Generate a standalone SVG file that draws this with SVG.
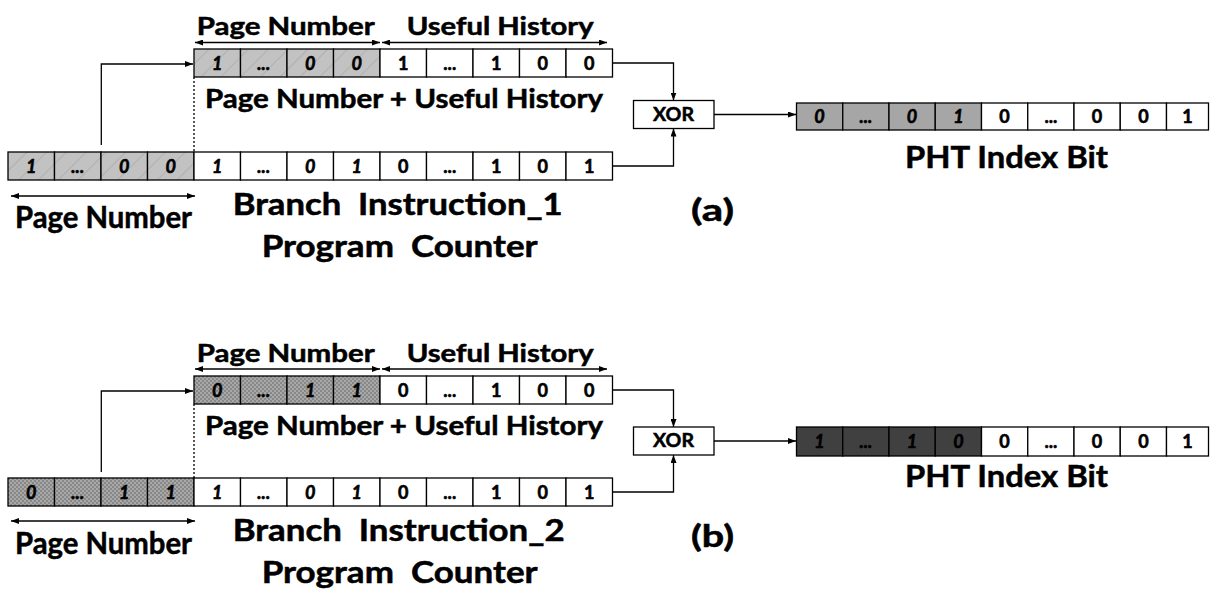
<svg xmlns="http://www.w3.org/2000/svg" width="1218" height="590" viewBox="0 0 1218 590">
  <style>
    text { font-family: Lato, "Open Sans", "Liberation Sans", sans-serif; font-weight: bold; fill: #000; stroke: #000; stroke-width: 0.5; }
    .lbl { font-size: 30px; }
    .top { font-size: 24px; }
    .mid { font-size: 27px; }
    .bit { font-size: 18px; text-anchor: middle; stroke-width: 0.6; }
    .it { font-style: italic; }
    .cell { stroke: #000; stroke-width: 1.3; fill: #fff; }
    .hat { fill: url(#hatch); }
    .xh { fill: url(#cross); }
    .g1 { fill: #a6a6a6; }
    .g2 { fill: #404040; }
    .wire { fill: none; stroke: #000; stroke-width: 1.3; }
    .arr { marker-end: url(#ah); }
    .dbl { marker-start: url(#ah); marker-end: url(#ah); }
    .dot { fill: none; stroke: #000; stroke-width: 1.3; stroke-dasharray: 2 2; }
  </style>
  <defs>
    <marker id="ah" viewBox="0 0 8 6" refX="8" refY="3" markerWidth="8" markerHeight="6" markerUnits="userSpaceOnUse" orient="auto-start-reverse">
      <path d="M0,0 L8,3 L0,6 Z" fill="#000"/>
    </marker>
    <!-- light grey with thin diagonal strokes -->
    <pattern id="hatch" width="14" height="14" patternUnits="userSpaceOnUse" patternTransform="rotate(45)">
      <rect width="14" height="14" fill="#c2c2c2"/>
      <line x1="0" y1="0" x2="0" y2="14" stroke="#a4a4a4" stroke-width="1.2"/>
    </pattern>
    <!-- mid grey fine checker -->
    <pattern id="cross" width="4" height="4" patternUnits="userSpaceOnUse">
      <rect width="4" height="4" fill="#888888"/>
      <rect width="2" height="2" fill="#a8a8a8"/>
      <rect x="2" y="2" width="2" height="2" fill="#a8a8a8"/>
    </pattern>
  </defs>

  <!-- ===================== (a) ===================== -->
  <g id="a-history-reg">
    <rect class="cell hat" x="194" y="49" width="46.5" height="28"/>
    <rect class="cell hat" x="240.5" y="49" width="46.5" height="28"/>
    <rect class="cell hat" x="287" y="49" width="46.5" height="28"/>
    <rect class="cell hat" x="333.5" y="49" width="46.5" height="28"/>
    <rect class="cell" x="380" y="49" width="46.5" height="28"/>
    <rect class="cell" x="426.5" y="49" width="46.5" height="28"/>
    <rect class="cell" x="473" y="49" width="46.5" height="28"/>
    <rect class="cell" x="519.5" y="49" width="46.5" height="28"/>
    <rect class="cell" x="566" y="49" width="46.5" height="28"/>
    <text class="bit it" x="217.25" y="69.5">1</text>
    <text class="bit it" x="263.75" y="69.5">...</text>
    <text class="bit it" x="310.25" y="69.5">0</text>
    <text class="bit it" x="356.75" y="69.5">0</text>
    <text class="bit" x="403.25" y="69.5">1</text>
    <text class="bit" x="449.75" y="69.5">...</text>
    <text class="bit" x="496.25" y="69.5">1</text>
    <text class="bit" x="542.75" y="69.5">0</text>
    <text class="bit" x="589.25" y="69.5">0</text>
    <text class="top" x="196.7" y="35" textLength="178" lengthAdjust="spacingAndGlyphs">Page Number</text>
    <text class="top" x="406.7" y="35" textLength="187" lengthAdjust="spacingAndGlyphs">Useful History</text>
    <text class="mid" x="205" y="108" textLength="398" lengthAdjust="spacingAndGlyphs">Page Number + Useful History</text>
  </g>

  <g id="a-pc-reg">
    <rect class="cell hat" x="8" y="152" width="46.5" height="28"/>
    <rect class="cell hat" x="54.5" y="152" width="46.5" height="28"/>
    <rect class="cell hat" x="101" y="152" width="46.5" height="28"/>
    <rect class="cell hat" x="147.5" y="152" width="46.5" height="28"/>
    <rect class="cell" x="194" y="152" width="46.5" height="28"/>
    <rect class="cell" x="240.5" y="152" width="46.5" height="28"/>
    <rect class="cell" x="287" y="152" width="46.5" height="28"/>
    <rect class="cell" x="333.5" y="152" width="46.5" height="28"/>
    <rect class="cell" x="380" y="152" width="46.5" height="28"/>
    <rect class="cell" x="426.5" y="152" width="46.5" height="28"/>
    <rect class="cell" x="473" y="152" width="46.5" height="28"/>
    <rect class="cell" x="519.5" y="152" width="46.5" height="28"/>
    <rect class="cell" x="566" y="152" width="46.5" height="28"/>
    <text class="bit it" x="31.25" y="172.5">1</text>
    <text class="bit it" x="77.75" y="172.5">...</text>
    <text class="bit it" x="124.25" y="172.5">0</text>
    <text class="bit it" x="170.75" y="172.5">0</text>
    <text class="bit it" x="217.25" y="172.5">1</text>
    <text class="bit it" x="263.75" y="172.5">...</text>
    <text class="bit it" x="310.25" y="172.5">0</text>
    <text class="bit it" x="356.75" y="172.5">1</text>
    <text class="bit" x="403.25" y="172.5">0</text>
    <text class="bit" x="449.75" y="172.5">...</text>
    <text class="bit" x="496.25" y="172.5">1</text>
    <text class="bit" x="542.75" y="172.5">0</text>
    <text class="bit" x="589.25" y="172.5">1</text>
    <text class="lbl" x="15" y="228" textLength="177" lengthAdjust="spacingAndGlyphs">Page Number</text>
    <text class="lbl" x="232.7" y="215" textLength="330" lengthAdjust="spacingAndGlyphs" xml:space="preserve">Branch  Instruction_1</text>
    <text class="lbl" x="261.7" y="257" textLength="276" lengthAdjust="spacingAndGlyphs" xml:space="preserve">Program  Counter</text>
    <text class="lbl" x="691" y="221" textLength="43" lengthAdjust="spacingAndGlyphs">(a)</text>
  </g>

  <g id="a-xor">
    <rect class="cell" x="633.5" y="100.5" width="80.5" height="28"/>
    <text x="653" y="120.5" font-size="18" textLength="41" lengthAdjust="spacingAndGlyphs">XOR</text>
  </g>

  <g id="a-pht">
    <rect class="cell g1" x="796.5" y="103" width="46.25" height="27"/>
    <rect class="cell g1" x="842.75" y="103" width="46.25" height="27"/>
    <rect class="cell g1" x="889" y="103" width="46.25" height="27"/>
    <rect class="cell g1" x="935.25" y="103" width="46.25" height="27"/>
    <rect class="cell" x="981.5" y="103" width="46.25" height="27"/>
    <rect class="cell" x="1027.75" y="103" width="46.25" height="27"/>
    <rect class="cell" x="1074" y="103" width="46.25" height="27"/>
    <rect class="cell" x="1120.25" y="103" width="46.25" height="27"/>
    <rect class="cell" x="1166.5" y="103" width="42" height="27"/>
    <text class="bit it" x="819.6" y="123">0</text>
    <text class="bit it" x="865.9" y="123">...</text>
    <text class="bit it" x="912.1" y="123">0</text>
    <text class="bit it" x="958.4" y="123">1</text>
    <text class="bit" x="1004.6" y="123">0</text>
    <text class="bit" x="1050.9" y="123">...</text>
    <text class="bit" x="1097.1" y="123">0</text>
    <text class="bit" x="1143.4" y="123">0</text>
    <text class="bit" x="1187.5" y="123">1</text>
    <text class="lbl" x="905" y="168" textLength="203" lengthAdjust="spacingAndGlyphs">PHT Index Bit</text>
  </g>

  <!-- ===================== (b) ===================== -->
  <g id="b-history-reg">
    <rect class="cell xh" x="194" y="376" width="46.5" height="28"/>
    <rect class="cell xh" x="240.5" y="376" width="46.5" height="28"/>
    <rect class="cell xh" x="287" y="376" width="46.5" height="28"/>
    <rect class="cell xh" x="333.5" y="376" width="46.5" height="28"/>
    <rect class="cell" x="380" y="376" width="46.5" height="28"/>
    <rect class="cell" x="426.5" y="376" width="46.5" height="28"/>
    <rect class="cell" x="473" y="376" width="46.5" height="28"/>
    <rect class="cell" x="519.5" y="376" width="46.5" height="28"/>
    <rect class="cell" x="566" y="376" width="46.5" height="28"/>
    <text class="bit it" x="217.25" y="396.5">0</text>
    <text class="bit it" x="263.75" y="396.5">...</text>
    <text class="bit it" x="310.25" y="396.5">1</text>
    <text class="bit it" x="356.75" y="396.5">1</text>
    <text class="bit" x="403.25" y="396.5">0</text>
    <text class="bit" x="449.75" y="396.5">...</text>
    <text class="bit" x="496.25" y="396.5">1</text>
    <text class="bit" x="542.75" y="396.5">0</text>
    <text class="bit" x="589.25" y="396.5">0</text>
    <text class="top" x="196.7" y="361.5" textLength="178" lengthAdjust="spacingAndGlyphs">Page Number</text>
    <text class="top" x="406.7" y="361.5" textLength="187" lengthAdjust="spacingAndGlyphs">Useful History</text>
    <text class="mid" x="205" y="435" textLength="398" lengthAdjust="spacingAndGlyphs">Page Number + Useful History</text>
  </g>

  <g id="b-pc-reg">
    <rect class="cell xh" x="8" y="478" width="46.5" height="28"/>
    <rect class="cell xh" x="54.5" y="478" width="46.5" height="28"/>
    <rect class="cell xh" x="101" y="478" width="46.5" height="28"/>
    <rect class="cell xh" x="147.5" y="478" width="46.5" height="28"/>
    <rect class="cell" x="194" y="478" width="46.5" height="28"/>
    <rect class="cell" x="240.5" y="478" width="46.5" height="28"/>
    <rect class="cell" x="287" y="478" width="46.5" height="28"/>
    <rect class="cell" x="333.5" y="478" width="46.5" height="28"/>
    <rect class="cell" x="380" y="478" width="46.5" height="28"/>
    <rect class="cell" x="426.5" y="478" width="46.5" height="28"/>
    <rect class="cell" x="473" y="478" width="46.5" height="28"/>
    <rect class="cell" x="519.5" y="478" width="46.5" height="28"/>
    <rect class="cell" x="566" y="478" width="46.5" height="28"/>
    <text class="bit it" x="31.25" y="498.5">0</text>
    <text class="bit it" x="77.75" y="498.5">...</text>
    <text class="bit it" x="124.25" y="498.5">1</text>
    <text class="bit it" x="170.75" y="498.5">1</text>
    <text class="bit it" x="217.25" y="498.5">1</text>
    <text class="bit it" x="263.75" y="498.5">...</text>
    <text class="bit it" x="310.25" y="498.5">0</text>
    <text class="bit it" x="356.75" y="498.5">1</text>
    <text class="bit" x="403.25" y="498.5">0</text>
    <text class="bit" x="449.75" y="498.5">...</text>
    <text class="bit" x="496.25" y="498.5">1</text>
    <text class="bit" x="542.75" y="498.5">0</text>
    <text class="bit" x="589.25" y="498.5">1</text>
    <text class="lbl" x="15" y="554" textLength="177" lengthAdjust="spacingAndGlyphs">Page Number</text>
    <text class="lbl" x="232.7" y="541" textLength="332" lengthAdjust="spacingAndGlyphs" xml:space="preserve">Branch  Instruction_2</text>
    <text class="lbl" x="261.7" y="583" textLength="276" lengthAdjust="spacingAndGlyphs" xml:space="preserve">Program  Counter</text>
    <text class="lbl" x="691" y="547" textLength="43" lengthAdjust="spacingAndGlyphs">(b)</text>
  </g>

  <g id="b-xor">
    <rect class="cell" x="633.5" y="427" width="80.5" height="28"/>
    <text x="653" y="447" font-size="18" textLength="41" lengthAdjust="spacingAndGlyphs">XOR</text>
  </g>

  <g id="b-pht">
    <rect class="cell g2" x="796.5" y="427" width="46.25" height="29"/>
    <rect class="cell g2" x="842.75" y="427" width="46.25" height="29"/>
    <rect class="cell g2" x="889" y="427" width="46.25" height="29"/>
    <rect class="cell g2" x="935.25" y="427" width="46.25" height="29"/>
    <rect class="cell" x="981.5" y="427" width="46.25" height="29"/>
    <rect class="cell" x="1027.75" y="427" width="46.25" height="29"/>
    <rect class="cell" x="1074" y="427" width="46.25" height="29"/>
    <rect class="cell" x="1120.25" y="427" width="46.25" height="29"/>
    <rect class="cell" x="1166.5" y="427" width="42" height="29"/>
    <text class="bit it" x="819.6" y="448">1</text>
    <text class="bit it" x="865.9" y="448">...</text>
    <text class="bit it" x="912.1" y="448">1</text>
    <text class="bit it" x="958.4" y="448">0</text>
    <text class="bit" x="1004.6" y="448">0</text>
    <text class="bit" x="1050.9" y="448">...</text>
    <text class="bit" x="1097.1" y="448">0</text>
    <text class="bit" x="1143.4" y="448">0</text>
    <text class="bit" x="1187.5" y="448">1</text>
    <text class="lbl" x="905" y="487" textLength="203" lengthAdjust="spacingAndGlyphs">PHT Index Bit</text>
  </g>

  <!-- ===================== connectors ===================== -->
  <g id="connectors">
    <!-- (a) -->
    <line class="wire dbl" x1="195" y1="42.5" x2="380" y2="42.5"/>
    <line class="wire dbl" x1="382" y1="42.5" x2="607" y2="42.5"/>
    <line class="wire dbl" x1="11" y1="196" x2="195" y2="196"/>
    <polyline class="wire arr" points="101.3,145 101.3,64 193,64"/>
    <line class="dot" x1="194" y1="77" x2="194" y2="152"/>
    <polyline class="wire arr" points="612.5,63 673.5,63 673.5,100.5"/>
    <polyline class="wire arr" points="612.5,166 673.5,166 673.5,128.5"/>
    <line class="wire arr" x1="714" y1="114.5" x2="796" y2="114.5"/>
    <!-- (b) -->
    <line class="wire dbl" x1="195" y1="369" x2="380" y2="369"/>
    <line class="wire dbl" x1="382" y1="369" x2="607" y2="369"/>
    <line class="wire dbl" x1="11" y1="521" x2="195" y2="521"/>
    <polyline class="wire arr" points="101.3,472 101.3,391 193,391"/>
    <line class="dot" x1="194" y1="404" x2="194" y2="478"/>
    <polyline class="wire arr" points="612.5,390 673.5,390 673.5,427"/>
    <polyline class="wire arr" points="612.5,492 673.5,492 673.5,455"/>
    <line class="wire arr" x1="714" y1="441" x2="796" y2="441"/>
  </g>
</svg>
